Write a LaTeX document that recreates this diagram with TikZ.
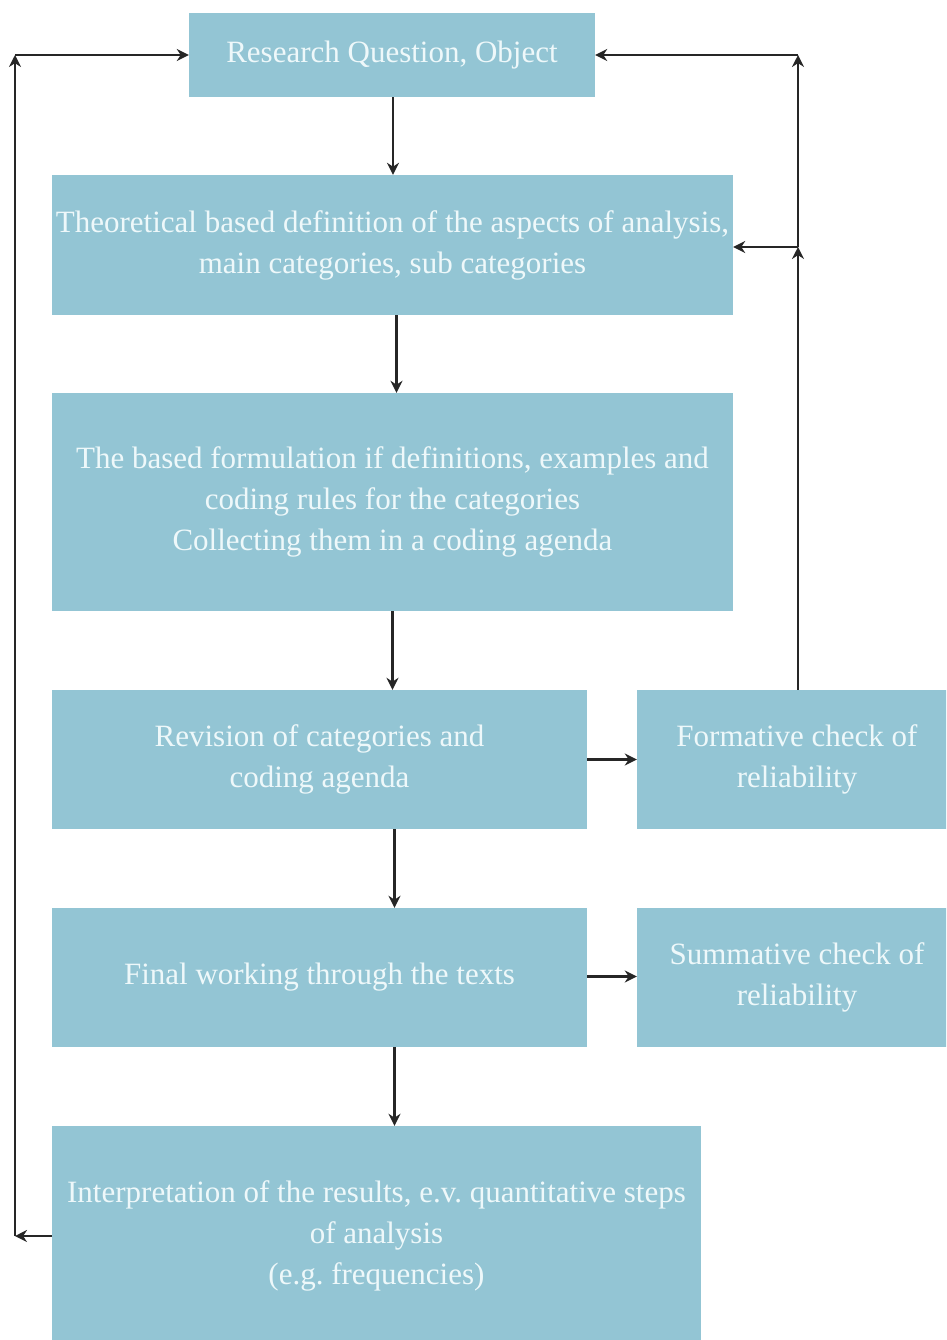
\documentclass[tikz,border=0pt]{standalone}
\usepackage{fontspec}
\setmainfont{Liberation Serif}
\usetikzlibrary{arrows.meta,calc}
\definecolor{boxfill}{HTML}{93C5D4}
\definecolor{boxtext}{HTML}{EEF8FA}
\begin{document}
\begin{tikzpicture}[x=1pt,y=-1pt,
  stepbox/.style={rectangle,fill=boxfill,draw=none,text=boxtext,align=center,inner sep=0pt,
    font=\fontsize{31pt}{41pt}\selectfont},
  arr/.style={line width=2.6pt,draw=black!85,-{Stealth[length=12pt,width=12pt]}}]
\useasboundingbox (0,0) rectangle (946,1340);
\begin{scope}
\clip (0,0) rectangle (946,1340);
\node[stepbox,minimum width=406pt,minimum height=84pt] (rq) at (392,55) {Research Question, Object};
\node[stepbox,minimum width=681pt,minimum height=140pt] (th) at (392.5,245) {Theoretical based definition of the aspects of analysis,\\main categories, sub categories};
\node[stepbox,minimum width=681pt,minimum height=218pt] (bf) at (392.5,502) {The based formulation if definitions, examples and\\coding rules for the categories\\Collecting them in a coding agenda};
\node[stepbox,minimum width=535pt,minimum height=139pt] (rv) at (319.5,759.5) {Revision of categories and\\coding agenda};
\node[stepbox,minimum width=320pt,minimum height=139pt] (fc) at (797,759.5) {Formative check of\\reliability};
\node[stepbox,minimum width=535pt,minimum height=139pt] (fw) at (319.5,977.5) {Final working through the texts};
\node[stepbox,minimum width=320pt,minimum height=139pt] (sc) at (797,977.5) {Summative check of\\reliability};
\node[stepbox,minimum width=649pt,minimum height=220pt] (ip) at (376.5,1236) {Interpretation of the results, e.v.\ quantitative steps\\of analysis\\(e.g.\ frequencies)};
\end{scope}
% coordinates for the feedback loops
\coordinate (rtop) at (798,55);
\coordinate (rmid) at (798,247);
\coordinate (lbot) at (15,1236);
\coordinate (ltop) at (15,55);
% main flow
\draw[arr] ($(rq.south)+(1,0)$) -- ($(rq.south|-th.north)+(1,0)$);
\draw[arr] ($(th.south)+(4,0)$) -- ($(th.south|-bf.north)+(4,0)$);
\draw[arr] (bf.south) -- (bf.south|-rv.north);
\draw[arr] ($(rv.south-|bf.south)+(2,0)$) -- ($(fw.north-|bf.south)+(2,0)$);
\draw[arr] ($(fw.south-|bf.south)+(2,0)$) -- ($(ip.north-|bf.south)+(2,0)$);
\draw[arr] (rv.east) -- (fc.west);
\draw[arr] ($(fw.east)+(0,-1)$) -- ($(sc.west|-fw.east)+(0,-1)$);
% right loop
\draw[arr] (fc.north-|rmid) -- (rmid);
\draw[arr] (rmid) -- (rtop);
\draw[arr] (rmid) -- (th.east|-rmid);
\draw[arr] (rtop) -- (rq.east|-rtop);
% left loop
\draw[arr] (ip.west|-lbot) -- (lbot);
\draw[arr] (lbot) -- (ltop);
\draw[arr] (ltop) -- (rq.west|-ltop);
\end{tikzpicture}
\end{document}
